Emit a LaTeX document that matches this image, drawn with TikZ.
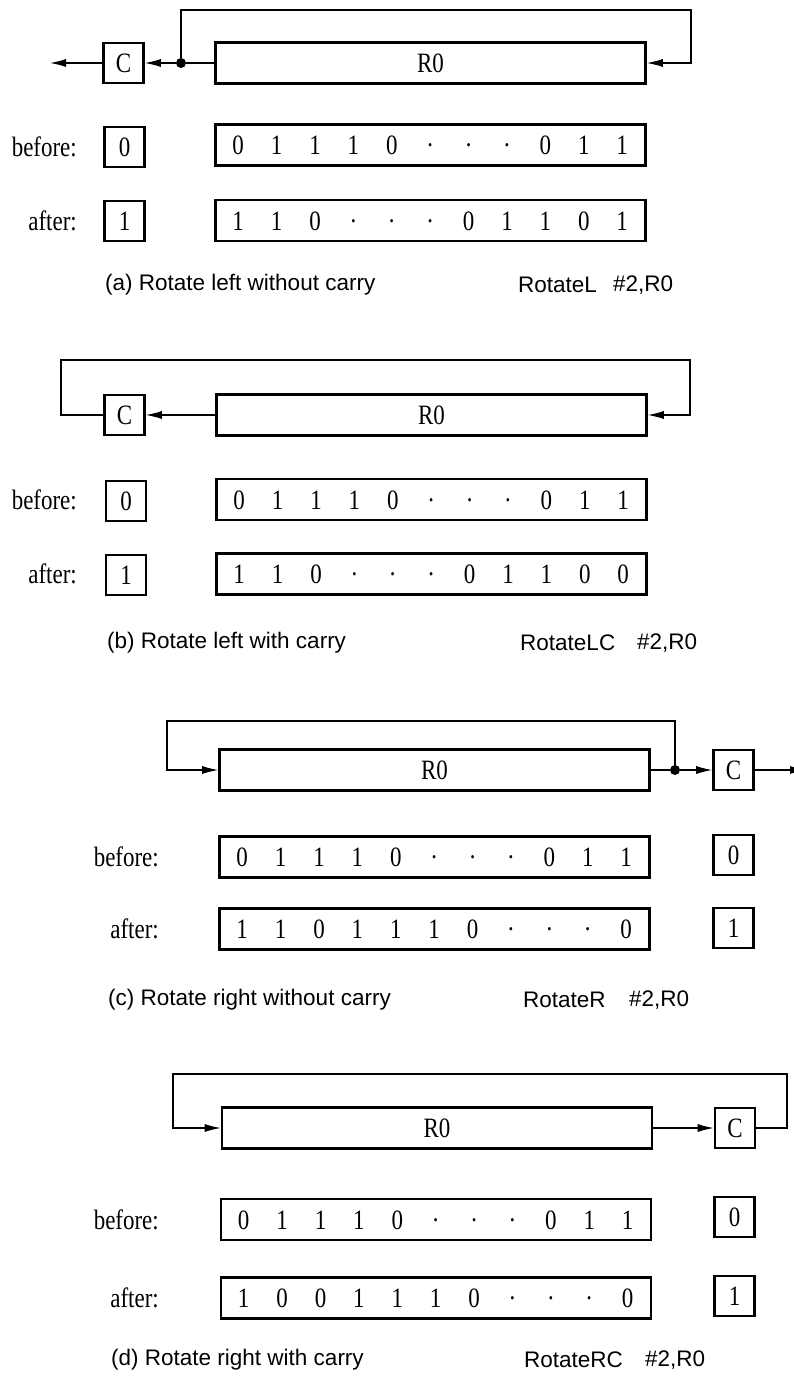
\documentclass[tikz,border=0pt]{standalone}
\usepackage{fontspec}
\setmainfont{Liberation Serif}[FakeStretch=0.82]
\newfontfamily\capfam{Liberation Sans}
\usetikzlibrary{arrows.meta,calc}
\newcommand{\regsize}{\fontsize{28}{30}\selectfont}
\newcommand{\capsize}{\capfam\fontsize{22.5}{26}\selectfont}
\newcommand{\dt}{\textperiodcentered}
\tikzset{>={Latex[length=16pt,width=8pt]},wire/.style={line width=1.1pt},
 regbox/.style={draw,line width=2.6pt,minimum width=430pt,minimum height=41pt,inner sep=0pt,font=\regsize},
 flagbox/.style={draw,line width=2.6pt,minimum width=40pt,minimum height=40pt,inner sep=0pt,font=\regsize},
 bit/.style={inner sep=0pt,text height=19pt,text depth=0pt,font=\regsize},
 rowlabel/.style={anchor=east,inner sep=0pt,font=\regsize},
 caption/.style={anchor=west,inner sep=0pt,font=\capsize},
 junction/.style={circle,fill,inner sep=0pt,minimum size=10pt}}

\begin{document}
\begin{tikzpicture}[x=1pt,y=-1pt]
\useasboundingbox (0,0) rectangle (794,1383);
% (a) rotate left without carry
\node[regbox] (Ra) at (430.5,63) {R0};
\node[flagbox] (Ca) at (123.5,63) {C};
\node[junction] (ja) at (181,63) {};
\coordinate (ta) at (691,10);
\coordinate (oa) at (50,63);
\draw[wire] (Ra.west)--(ja);
\draw[wire,->] (ja)--(Ca.east);
\draw[wire,->] (ja)|-(ta)|-(Ra.east);
\draw[wire,->] (Ca.west)--(oa);
\node[rowlabel] (lba) at (77,147) {before:};
\node[flagbox] (cba) at (124.5,147) {0};
\node[regbox] (ba) at (430.5,145) {};
\node[rowlabel] (laa) at (77,221) {after:};
\node[flagbox] (caa) at (124.5,221) {1};
\node[regbox] (aa) at (430.5,220.5) {};
\foreach \v [count=\i from 0] in {0,1,1,1,0,\dt,\dt,\dt,0,1,1}
 \node[bit] (ba\i) at ($(ba.west)+(24+38.4*\i,0)$) {\v};
\foreach \v [count=\i from 0] in {1,1,0,\dt,\dt,\dt,0,1,1,0,1}
 \node[bit] (aa\i) at ($(aa.west)+(24+38.4*\i,0)$) {\v};
\node[caption] (capa) at (105,285) {(a) Rotate left without carry};
\node[caption] (opa) at (518,285) {RotateL};
\node[caption] (arga) at (613,285) {\#2,R0};

% (b) rotate left with carry
\node[regbox] (Rb) at (431.5,415) {R0};
\node[flagbox] (Cb) at (124.5,415) {C};
\coordinate (lb) at (61,360);
\coordinate (rb) at (690,360);
\draw[wire,->] (Rb.west)--(Cb.east);
\draw[wire,->] (Cb.west)-|(lb)--(rb)|-(Rb.east);
\node[rowlabel] (lbb) at (77,500) {before:};
\node[flagbox] (cbb) at (126,501) {0};
\node[regbox] (bb) at (431.5,499.5) {};
\node[rowlabel] (lab) at (77,574) {after:};
\node[flagbox] (cab) at (126,575) {1};
\node[regbox] (ab) at (431.5,574) {};
\foreach \v [count=\i from 0] in {0,1,1,1,0,\dt,\dt,\dt,0,1,1}
 \node[bit] (bb\i) at ($(bb.west)+(24+38.4*\i,0)$) {\v};
\foreach \v [count=\i from 0] in {1,1,0,\dt,\dt,\dt,0,1,1,0,0}
 \node[bit] (ab\i) at ($(ab.west)+(24+38.4*\i,0)$) {\v};
\node[caption] (capb) at (107,643) {(b) Rotate left with carry};
\node[caption] (opb) at (520,643) {RotateLC};
\node[caption] (argb) at (637,643) {\#2,R0};

% (c) rotate right without carry
\node[regbox] (Rc) at (434.5,770) {R0};
\node[flagbox] (Cc) at (733.5,770) {C};
\node[junction] (jc) at (675,770) {};
\coordinate (lc) at (167,721);
\coordinate (oc) at (806,770);
\draw[wire] (Rc.east)--(jc);
\draw[wire,->] (jc)--(Cc.west);
\draw[wire,->] (jc)|-(lc)|-(Rc.west);
\draw[wire,->] (Cc.east)--(oc);
\node[rowlabel] (lbc) at (159,857) {before:};
\node[regbox] (bc) at (434.5,857) {};
\node[flagbox] (cbc) at (733.5,855) {0};
\node[rowlabel] (lac) at (159,929) {after:};
\node[regbox] (ac) at (434.5,929) {};
\node[flagbox] (cac) at (733.5,928) {1};
\foreach \v [count=\i from 0] in {0,1,1,1,0,\dt,\dt,\dt,0,1,1}
 \node[bit] (bc\i) at ($(bc.west)+(24+38.4*\i,0)$) {\v};
\foreach \v [count=\i from 0] in {1,1,0,1,1,1,0,\dt,\dt,\dt,0}
 \node[bit] (ac\i) at ($(ac.west)+(24+38.4*\i,0)$) {\v};
\node[caption] (capc) at (108,1000) {(c) Rotate right without carry};
\node[caption] (opc) at (523,1000) {RotateR};
\node[caption] (argc) at (629,1000) {\#2,R0};

% (d) rotate right with carry
\node[regbox] (Rd) at (437,1128) {R0};
\node[flagbox] (Cd) at (735,1128) {C};
\coordinate (rd) at (787,1074);
\coordinate (ld) at (173,1074);
\draw[wire,->] (Rd.east)--(Cd.west);
\draw[wire,->] (Cd.east)-|(rd)--(ld)|-(Rd.west);
\node[rowlabel] (lbd) at (159,1220) {before:};
\node[regbox] (bd) at (436,1219.5) {};
\node[flagbox] (cbd) at (734.5,1217) {0};
\node[rowlabel] (lad) at (159,1298) {after:};
\node[regbox] (ad) at (436,1298) {};
\node[flagbox] (cad) at (734.5,1296) {1};
\foreach \v [count=\i from 0] in {0,1,1,1,0,\dt,\dt,\dt,0,1,1}
 \node[bit] (bd\i) at ($(bd.west)+(24+38.4*\i,0)$) {\v};
\foreach \v [count=\i from 0] in {1,0,0,1,1,1,0,\dt,\dt,\dt,0}
 \node[bit] (ad\i) at ($(ad.west)+(24+38.4*\i,0)$) {\v};
\node[caption] (capd) at (111,1360) {(d) Rotate right with carry};
\node[caption] (opd) at (524,1360) {RotateRC};
\node[caption] (argd) at (645,1360) {\#2,R0};
\end{tikzpicture}
\end{document}
